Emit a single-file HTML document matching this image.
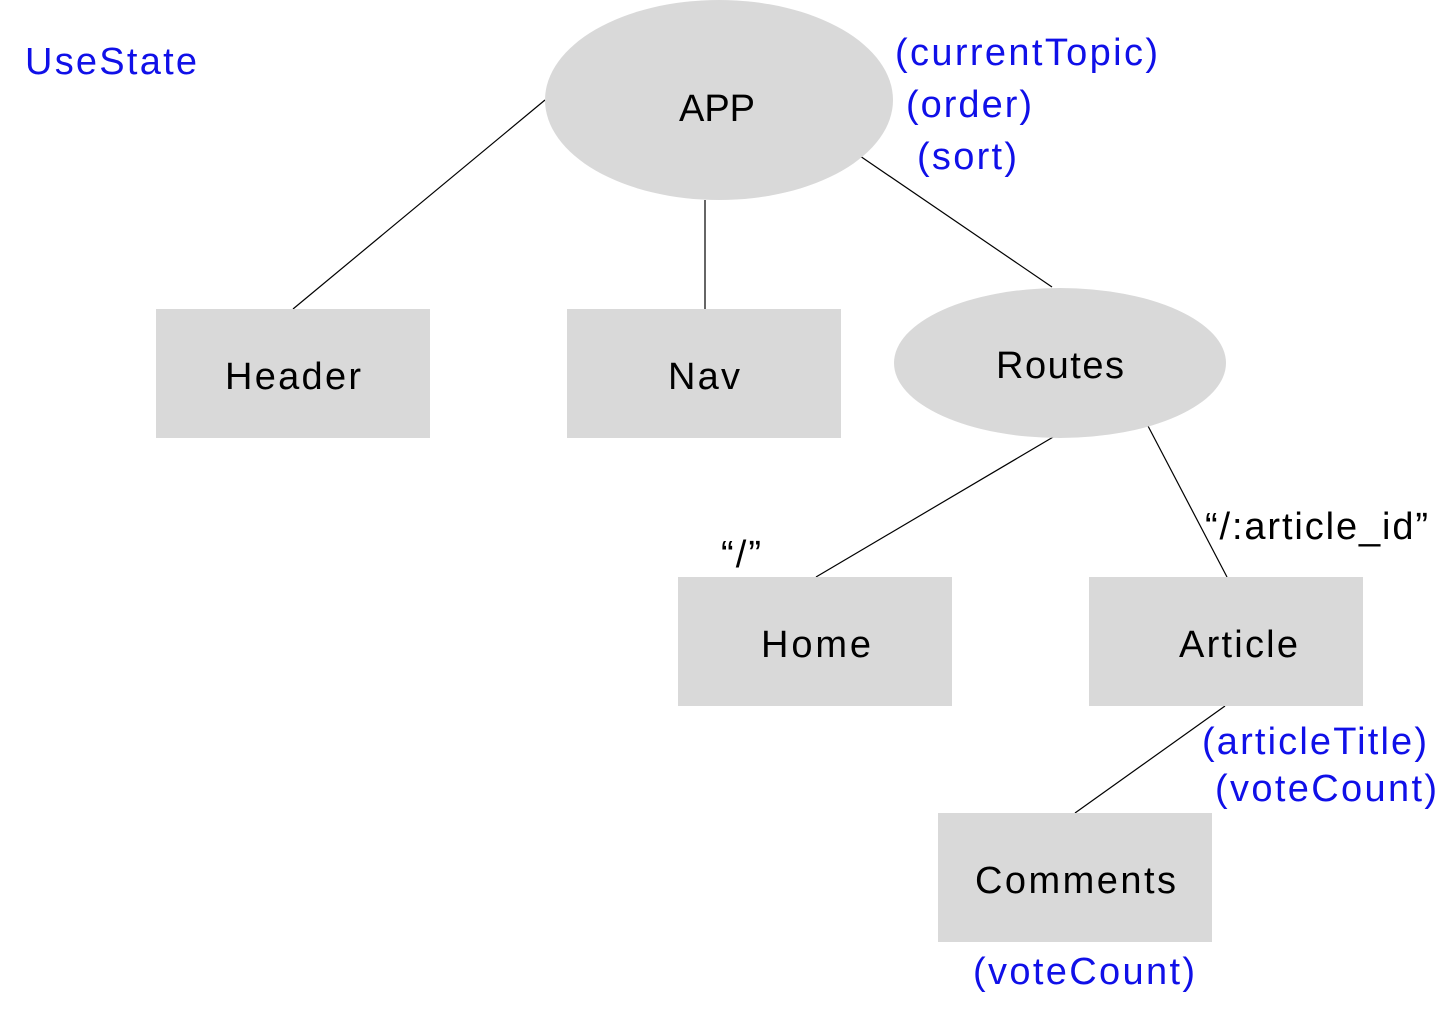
<!DOCTYPE html>
<html><head><meta charset="utf-8"><style>
html,body{margin:0;padding:0;background:#fff;}
svg{display:block;}
text{font-family:"Liberation Sans",sans-serif;font-size:38px;}
.b{fill:#1010e8;}
.k{fill:#000;}
</style></head><body>
<svg width="1440" height="1024" viewBox="0 0 1440 1024" xmlns="http://www.w3.org/2000/svg">
<g stroke="#000" stroke-width="1.2">
<line x1="545" y1="100" x2="293" y2="309"/>
<line x1="705" y1="200" x2="705" y2="309"/>
<line x1="860" y1="156" x2="1052" y2="287"/>
<line x1="1060" y1="433" x2="816" y2="577"/>
<line x1="1148" y1="426" x2="1227" y2="577"/>
<line x1="1225" y1="706" x2="1075" y2="813"/>
</g>
<g fill="#d9d9d9">
<ellipse cx="719" cy="100" rx="174" ry="100"/>
<ellipse cx="1060" cy="363" rx="166" ry="75"/>
<rect x="156" y="309" width="274" height="129"/>
<rect x="567" y="309" width="274" height="129"/>
<rect x="678" y="577" width="274" height="129"/>
<rect x="1089" y="577" width="274" height="129"/>
<rect x="938" y="813" width="274" height="129"/>
</g>
<text class="b" x="25" y="74" textLength="172">UseState</text>
<text class="k" x="679" y="121" textLength="76">APP</text>
<text class="k" x="225" y="389" textLength="136">Header</text>
<text class="k" x="668" y="389" textLength="72">Nav</text>
<text class="k" x="996" y="378" textLength="128">Routes</text>
<text class="k" x="761" y="657" textLength="110">Home</text>
<text class="k" x="1179" y="657" textLength="119">Article</text>
<text class="k" x="975" y="893" textLength="201">Comments</text>
<text class="b" x="895" y="65" textLength="263">(currentTopic)</text>
<text class="b" x="906" y="117" textLength="126">(order)</text>
<text class="b" x="917" y="169" textLength="100">(sort)</text>
<text class="k" x="721" y="567" textLength="40">“/”</text>
<text class="k" x="1205" y="539" textLength="223">“/:article_id”</text>
<text class="b" x="1202" y="754" textLength="225">(articleTitle)</text>
<text class="b" x="1215" y="801" textLength="222">(voteCount)</text>
<text class="b" x="973" y="984" textLength="222">(voteCount)</text>
</svg>
</body></html>
